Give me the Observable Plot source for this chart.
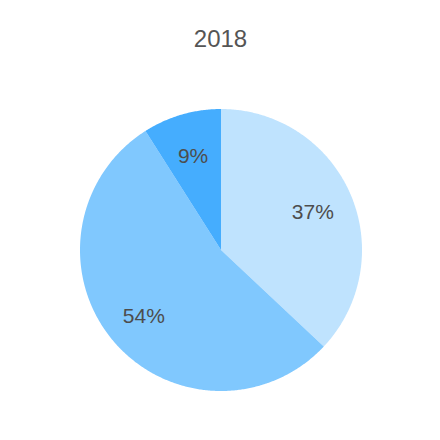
<!DOCTYPE html>
<html>
<head>
<meta charset="utf-8">
<script src="https://cdn.jsdelivr.net/npm/d3@7"></script>
<script src="https://cdn.jsdelivr.net/npm/@observablehq/plot@0.6"></script>
<style>
  html, body { margin: 0; padding: 0; background: #fff; }
</style>
</head>
<body>
<div id="chart"></div>
<script>
const title = "2018";
const categories = ["A", "B", "C"];
const values = [37, 54, 9];
const labels = ["37%", "54%", "9%"];
const colors = ["#bfe3fe", "#80c8fe", "#45adfe"];

const W = 440, H = 440;
const cx = 220.5, cy = 249.5, R = 141;
const labelR = 0.71;

const arcs = d3.pie().sort(null).value(d => d)(values);

// polygon outline of each slice in unit-circle coordinates (y up)
function slicePoints(a) {
  const pts = [{X: 0, Y: 0}];
  const n = Math.max(2, Math.ceil((a.endAngle - a.startAngle) / (Math.PI / 360)));
  for (let i = 0; i <= n; i++) {
    const t = a.startAngle + (a.endAngle - a.startAngle) * i / n;
    pts.push({X: Math.sin(t), Y: Math.cos(t)});
  }
  pts.push({X: 0, Y: 0});
  return pts;
}

const labelData = arcs.map((a, i) => {
  const m = (a.startAngle + a.endAngle) / 2;
  return {X: labelR * Math.sin(m), Y: labelR * Math.cos(m), text: labels[i]};
});

const marks = arcs.map((a, i) =>
  Plot.line(slicePoints(a), {x: "X", y: "Y", fill: colors[i], stroke: "none", curve: "linear"})
);
marks.push(Plot.text(labelData, {
  x: "X", y: "Y", text: "text", fill: "#4d4d4d", fontSize: 21, dy: 2, textAnchor: "middle", lineAnchor: "middle"
}));
marks.push(Plot.text([title], {
  frameAnchor: "top", dy: 39, fill: "#555", fontSize: 24, lineAnchor: "middle"
}));

const chart = Plot.plot({
  width: W,
  height: H,
  margin: 0,
  style: {fontFamily: "'Liberation Sans', Arial, Helvetica, sans-serif", background: "#fff"},
  x: {domain: [-cx / R, (W - cx) / R], range: [0, W], axis: null},
  y: {domain: [-(H - cy) / R, cy / R], range: [H, 0], axis: null},
  marks
});
document.getElementById("chart").append(chart);
</script>
</body>
</html>
